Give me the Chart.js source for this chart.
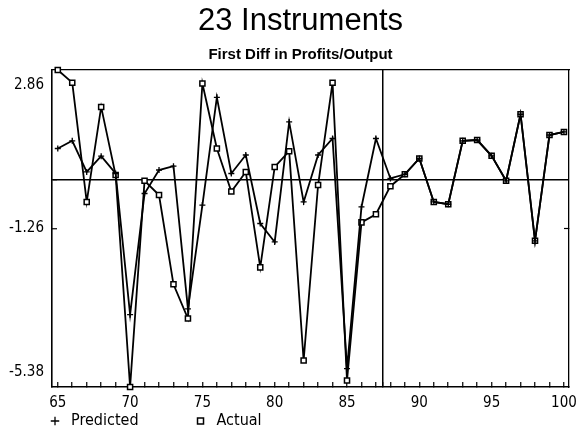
<!DOCTYPE html>
<html>
<head>
<meta charset="utf-8">
<script src="https://cdn.jsdelivr.net/npm/chart.js@4.4.1/dist/chart.umd.min.js"></script>
<style>
html,body{margin:0;padding:0;background:#fff;overflow:hidden}
</style>
</head>
<body>
<canvas id="c" width="576" height="439"></canvas>
<script>
// ---- data ----
const years = [65,66,67,68,69,70,71,72,73,74,75,76,77,78,79,80,81,82,83,84,85,86,87,88,89,90,91,92,93,94,95,96,97,98,99,100];
const predicted = [0.82,1.02,0.21,0.62,0.17,-3.50,-0.35,0.26,0.36,-3.35,-0.65,2.15,0.17,0.65,-1.13,-1.61,1.51,-0.57,0.65,1.08,-4.90,-0.70,1.08,0.04,0.15,0.56,-0.57,-0.63,1.02,1.04,0.63,-0.02,1.71,-1.58,1.17,1.25];
const actual = [2.86,2.53,-0.57,1.90,0.13,-5.38,-0.02,-0.39,-2.71,-3.60,2.51,0.82,-0.30,0.21,-2.27,0.34,0.75,-4.69,-0.13,2.53,-5.21,-1.10,-0.89,-0.16,0.15,0.56,-0.57,-0.63,1.02,1.04,0.63,-0.02,1.71,-1.58,1.17,1.25];
const yTickValues = [-5.38, -1.26, 0, 2.86];
const xLabelStep = 5;
const dividerYear = 87.5;
const xMin = 64.6, xMax = 100.35;

const yMin = Math.min(...yTickValues);
const yMax = Math.max(...yTickValues);
const xTickValues = [xMin, ...years, dividerYear, xMax].sort((a, b) => a - b);

const SANS = "'Liberation Sans', Arial, sans-serif";
const NARROW = "'Liberation Sans Narrow', 'DejaVu Sans Condensed', 'Liberation Sans', sans-serif";
const CLEAR = 'rgba(0,0,0,0)';
const TICK_FONT = 15;
const LEGEND_FONT = 16;
const LEGEND_PAD = 15;
const LEFT_PAD = 32;

// widest y label (used to right-align the mirrored y labels)
const mctx = document.createElement('canvas').getContext('2d');
mctx.font = 'normal ' + TICK_FONT + 'px ' + NARROW;
const yWidest = Math.max(...yTickValues.filter(v => v !== 0).map(v => mctx.measureText(v.toFixed(2)).width));

const toPoints = arr => years.map((x, i) => ({x, y: arr[i]}));
const isEdge = (ctx, lo, hi) => ctx.tick && (ctx.tick.value === lo || ctx.tick.value === hi);

new Chart(document.getElementById('c'), {
  type: 'line',
  data: {
    datasets: [
      {
        label: 'Predicted',
        data: toPoints(predicted),
        borderColor: '#000',
        backgroundColor: '#000',
        borderWidth: 1.8,
        pointStyle: 'cross',
        pointRadius: 3,
        pointBorderWidth: 1.3,
        tension: 0,
        clip: false
      },
      {
        label: 'Actual',
        data: toPoints(actual),
        borderColor: '#000',
        backgroundColor: '#fff',
        borderWidth: 1.8,
        pointStyle: 'rect',
        pointRadius: 3.6,
        pointBorderWidth: 1.5,
        pointBackgroundColor: '#fff',
        tension: 0,
        clip: false
      }
    ]
  },
  options: {
    responsive: false,
    animation: false,
    events: [],
    layout: {padding: {left: LEFT_PAD, right: 7, top: 0, bottom: 0}},
    plugins: {
      title: {
        display: true, text: '23 Instruments', color: '#000',
        font: {family: SANS, size: 31, weight: 'normal', lineHeight: 1.2},
        padding: {top: 3, bottom: 0}
      },
      subtitle: {
        display: true, text: 'First Diff in Profits/Output', color: '#000',
        font: {family: SANS, size: 15, weight: 'bold', lineHeight: 1.2},
        padding: {top: 5.8, bottom: 6}
      },
      legend: {
        display: true, position: 'bottom', align: 'start',
        labels: {
          usePointStyle: true, boxHeight: 6, color: '#000',
          font: {family: NARROW, size: LEGEND_FONT}, padding: LEGEND_PAD,
          // blank spacer between the two entries, as in the reference legend
          generateLabels: chart => {
            const items = Chart.defaults.plugins.legend.labels.generateLabels(chart);
            items.splice(1, 0, {text: '', fillStyle: CLEAR, strokeStyle: CLEAR, fontColor: CLEAR,
                                lineWidth: 0, pointStyle: 'line', hidden: false, datasetIndex: -1});
            return items;
          }
        }
      },
      tooltip: {enabled: false}
    },
    scales: {
      x: {
        type: 'linear', position: 'bottom', min: xMin, max: xMax,
        afterBuildTicks: s => { s.ticks = xTickValues.map(v => ({value: v})); },
        afterFit: s => { s.height = 439 - 387 - (LEGEND_FONT + LEGEND_PAD + 10); },
        ticks: {
          autoSkip: false, maxRotation: 0, mirror: true, padding: -25, color: '#000',
          font: {family: NARROW, size: TICK_FONT, lineHeight: 1.2},
          callback: v => (Number.isInteger(v) && v % xLabelStep === 0 ? String(v) : '')
        },
        grid: {
          drawOnChartArea: true,
          color: ctx => (ctx.tick && ctx.tick.value === dividerYear ? '#000' : CLEAR),
          lineWidth: 1.5,
          tickColor: ctx => (isEdge(ctx, xMin, xMax) ? CLEAR : '#000'),
          tickLength: -5, tickWidth: 1.2
        },
        border: {display: true, color: '#000', width: 1.6}
      },
      x2: {
        type: 'linear', position: 'top', min: xMin, max: xMax,
        afterFit: s => { s.height = 0; },
        ticks: {display: false},
        grid: {display: false},
        border: {display: true, color: '#000', width: 1.3}
      },
      y: {
        type: 'linear', position: 'left', min: yMin, max: yMax,
        afterBuildTicks: s => { s.ticks = yTickValues.map(v => ({value: v})); },
        afterFit: s => { s.width = 52 - LEFT_PAD; },
        ticks: {
          mirror: true, crossAlign: 'far', padding: -8 - yWidest, color: '#000',
          font: {family: NARROW, size: TICK_FONT, lineHeight: 1},
          callback: v => {
            if (v === 0) return '';
            const s = v.toFixed(2);
            if (v === yMax) return ['', '', s];
            if (v === yMin) return [s, '', ''];
            return s;
          }
        },
        grid: {
          drawOnChartArea: true,
          color: ctx => (ctx.tick && ctx.tick.value === 0 ? '#000' : CLEAR),
          lineWidth: 1.5,
          tickColor: ctx => (isEdge(ctx, yMin, yMax) ? CLEAR : '#000'),
          tickLength: -5, tickWidth: 1.2
        },
        border: {display: true, color: '#000', width: 1.6}
      },
      y2: {
        type: 'linear', position: 'right', min: yMin, max: yMax,
        afterBuildTicks: s => { s.ticks = yTickValues.filter(v => v !== 0).map(v => ({value: v})); },
        afterFit: s => { s.width = 0; },
        ticks: {display: false},
        grid: {
          drawOnChartArea: false,
          tickColor: ctx => (isEdge(ctx, yMin, yMax) ? CLEAR : '#000'),
          tickLength: -5, tickWidth: 1.2
        },
        border: {display: true, color: '#000', width: 1.3}
      }
    }
  }
});
</script>
</body>
</html>
